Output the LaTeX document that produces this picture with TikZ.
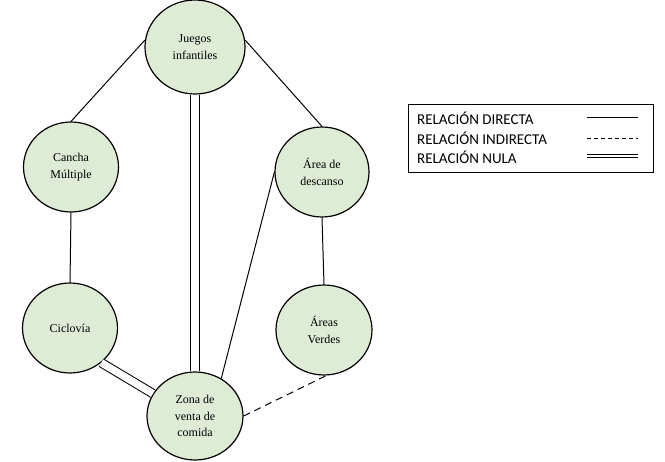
\documentclass[tikz,border=0pt]{standalone}
\usepackage{fontspec}
\setmainfont{Liberation Serif}
\newfontfamily\leyendafont{Carlito}
\usetikzlibrary{shapes.geometric}
\definecolor{verdeclaro}{RGB}{222,236,213}
\tikzset{
lugar/.style={ellipse, draw, line width=1.2pt, fill=verdeclaro, inner sep=0pt, align=center, font=\fontsize{12}{16.5}\selectfont},
leyenda/.style={anchor=west, inner sep=0pt, font=\leyendafont\fontsize{15}{17}\selectfont},
directa/.style={line width=1pt},
indirecta/.style={line width=1pt, dash pattern=on 7pt off 5pt},
nula/.style={double, double distance=7.5pt, line width=1pt}
}

\begin{document}
\begin{tikzpicture}[x=1pt,y=-1pt]
\useasboundingbox (0,0) rectangle (665,462);

\node[lugar, minimum width=100pt, minimum height=94pt] (juegos) at (195,47) {Juegos\\infantiles};
\node[lugar, minimum width=95pt, minimum height=90pt] (cancha) at (71,167) {Cancha\\Múltiple};
\node[lugar, minimum width=95pt, minimum height=90pt] (ciclovia) at (70,328) {Ciclovía};
\node[lugar, minimum width=94pt, minimum height=90pt] (area) at (322,172) {Área de\\descanso};
\node[lugar, minimum width=96pt, minimum height=90pt] (verdes) at (324,330) {Áreas\\Verdes};
\node[lugar, minimum width=96pt, minimum height=88pt] (zona) at (195,416) {Zona de\\venta de\\comida};

\draw[directa] (juegos.172) -- (cancha.north);
\draw[directa] (juegos.8) -- (area.north);
\draw[nula] (juegos.south) -- (zona.north);
\draw[directa] (cancha.south) -- (ciclovia.north);
\draw[nula] (ciclovia.-48) -- (zona.152);
\draw[directa] (area.west) -- (zona.55);
\draw[directa] (area.south) -- (verdes.north);
\draw[indirecta] (zona.east) -- (verdes.-87);

\draw[line width=1pt] (408,105) rectangle (653,173);
\node[leyenda] (ldirecta) at (417,118) {RELACIÓN DIRECTA};
\node[leyenda] (lindirecta) at (417,138) {RELACIÓN INDIRECTA};
\node[leyenda] (lnula) at (417,157) {RELACIÓN NULA};
\coordinate (d1) at (587,118);
\coordinate (d2) at (638,118);
\coordinate (i1) at (587,138);
\coordinate (i2) at (638,138);
\coordinate (n1) at (587,156);
\coordinate (n2) at (638,156);
\draw[directa] (d1) -- (d2);
\draw[line width=0.9pt, dash pattern=on 4pt off 3pt] (i1) -- (i2);
\draw[line width=0.8pt, double, double distance=2.5pt] (n1) -- (n2);
\end{tikzpicture}
\end{document}
